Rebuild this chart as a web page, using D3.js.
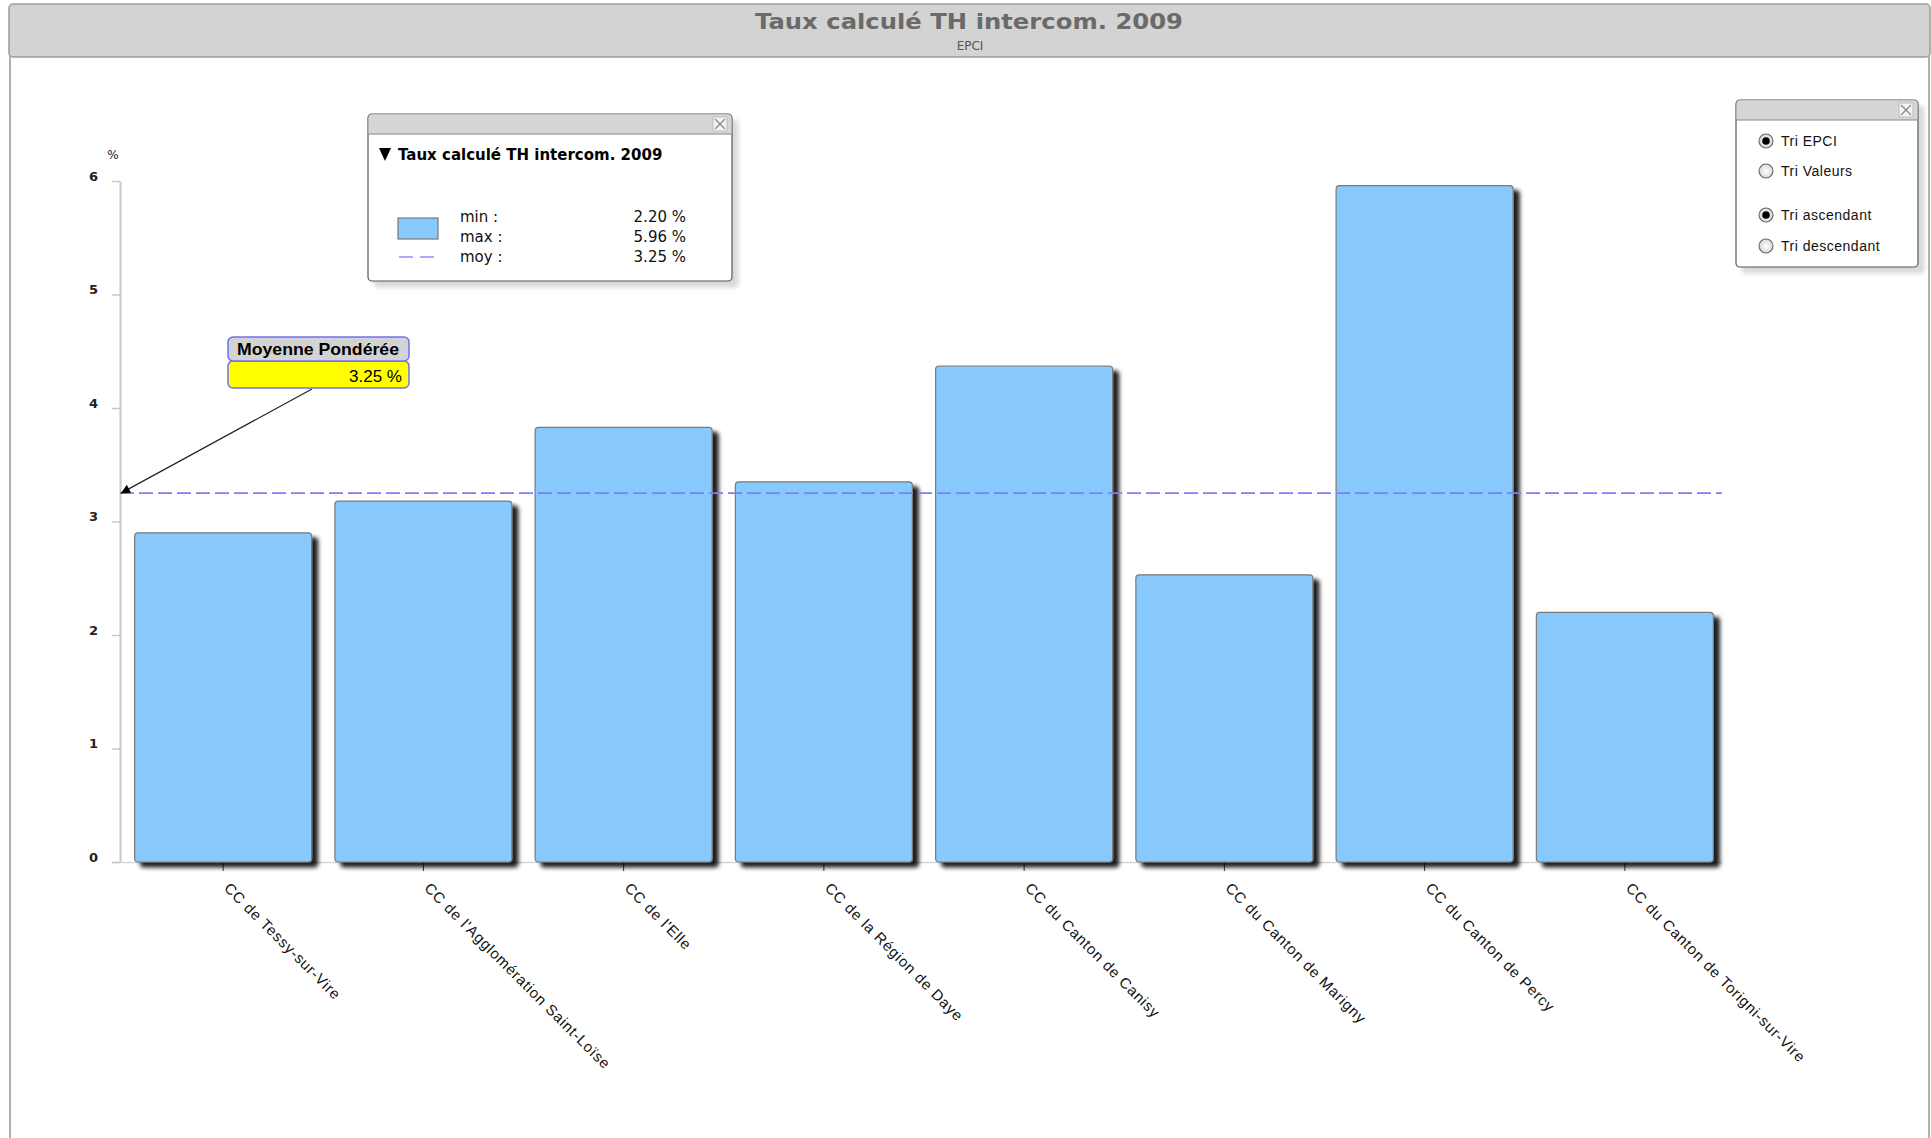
<!DOCTYPE html>
<html>
<head>
<meta charset="utf-8">
<script src="https://cdn.jsdelivr.net/npm/d3@7"></script>
<style>
  html, body { margin: 0; padding: 0; background: #fff; }
  svg { display: block; }
</style>
</head>
<body>
<svg id="chart" width="1931" height="1138"></svg>
<script>
// ---- data ----
const categories = [
  "CC de Tessy-sur-Vire",
  "CC de l'Agglomération Saint-Loïse",
  "CC de l'Elle",
  "CC de la Région de Daye",
  "CC du Canton de Canisy",
  "CC du Canton de Marigny",
  "CC du Canton de Percy",
  "CC du Canton de Torigni-sur-Vire"
];
const values = [2.90, 3.18, 3.83, 3.35, 4.37, 2.53, 5.96, 2.20];
const yTicks = [0, 1, 2, 3, 4, 5, 6];
const meanValue = 3.25;
const meanLabel = "Moyenne Pondérée";
const meanText = "3.25 %";
const titleText = "Taux calculé TH intercom. 2009";
const subtitleText = "EPCI";
const unitText = "%";
const legendLabels = ["min :", "max :", "moy :"];
const legendValues = ["2.20 %", "5.96 %", "3.25 %"];
const sortOptions = ["Tri EPCI", "Tri Valeurs"];
const orderOptions = ["Tri ascendant", "Tri descendant"];

// ---- setup ----
const svg = d3.select("#chart");
const defs = svg.append("defs");

const shadow = defs.append("filter").attr("id", "barShadow")
  .attr("x", "-10%").attr("y", "-10%").attr("width", "130%").attr("height", "130%");
shadow.append("feDropShadow").attr("dx", 6).attr("dy", 5).attr("stdDeviation", 2.2)
  .attr("flood-color", "#000").attr("flood-opacity", 0.88);

const boxShadow = defs.append("filter").attr("id", "boxShadow")
  .attr("x", "-10%").attr("y", "-10%").attr("width", "130%").attr("height", "130%");
boxShadow.append("feDropShadow").attr("dx", 6).attr("dy", 6).attr("stdDeviation", 2)
  .attr("flood-color", "#000").attr("flood-opacity", 0.15);

defs.append("marker").attr("id", "arrow")
  .attr("viewBox", "0 0 10 10").attr("refX", 10).attr("refY", 5)
  .attr("markerWidth", 12).attr("markerHeight", 9).attr("markerUnits", "userSpaceOnUse")
  .attr("orient", "auto")
  .append("path").attr("d", "M0,0 L10,5 L0,10 z").attr("fill", "#000");

const radioGrad = defs.append("radialGradient").attr("id", "radioGrad");
radioGrad.append("stop").attr("offset", "0%").attr("stop-color", "#fff");
radioGrad.append("stop").attr("offset", "100%").attr("stop-color", "#d8d8d8");

// ---- frame ----
svg.append("line").attr("x1", 10).attr("x2", 10).attr("y1", 50).attr("y2", 1138)
  .attr("stroke", "#b0b0b0").attr("stroke-width", 2);
svg.append("line").attr("x1", 1929).attr("x2", 1929).attr("y1", 50).attr("y2", 1138)
  .attr("stroke", "#b0b0b0").attr("stroke-width", 2);
svg.append("rect").attr("x", 9).attr("y", 4).attr("width", 1921).attr("height", 53)
  .attr("rx", 4).attr("fill", "#d3d3d3").attr("stroke", "#9c9c9c").attr("stroke-width", 1.5);
svg.append("text").attr("x", 969).attr("y", 29).attr("text-anchor", "middle")
  .attr("font-family", "DejaVu Sans").attr("font-weight", "bold").attr("font-size", 22)
  .attr("textLength", 428).attr("lengthAdjust", "spacingAndGlyphs")
  .attr("fill", "#6a6a6a").text(titleText);
svg.append("text").attr("x", 970).attr("y", 50).attr("text-anchor", "middle")
  .attr("font-family", "DejaVu Sans").attr("font-size", 12)
  .attr("fill", "#555").text(subtitleText);

// ---- scales ----
const x = d3.scaleBand().domain(categories).range([123, 1725])
  .paddingInner(0.116).paddingOuter(0.058);
const y = d3.scaleLinear().domain([0, 6]).range([862, 181]);

// ---- axes ----
const xAxis = svg.append("g").attr("transform", "translate(0,862)")
  .call(d3.axisBottom(x).tickSize(9).tickSizeOuter(0).tickFormat(""));
xAxis.select(".domain").attr("stroke", "#d6d6d6").attr("stroke-width", 1.5)
  .attr("d", "M112,0.5H1722");
xAxis.selectAll(".tick line").attr("stroke", "#333");

const yAxis = svg.append("g").attr("transform", "translate(120,0)")
  .call(d3.axisLeft(y).tickValues(yTicks).tickSize(8).tickSizeOuter(0).tickPadding(14)
    .tickFormat(d3.format("d")));
yAxis.select(".domain").attr("stroke", "#c8c8c8").attr("stroke-width", 2);
yAxis.selectAll(".tick line").attr("stroke", "#c8c8c8").attr("stroke-width", 1.5);
yAxis.selectAll(".tick text").attr("font-family", "DejaVu Sans").attr("font-weight", "bold")
  .attr("font-size", 13).attr("fill", "#222").attr("dy", "-0.05em");
svg.append("text").attr("x", 113).attr("y", 159).attr("text-anchor", "middle")
  .attr("font-family", "DejaVu Sans").attr("font-size", 12).attr("fill", "#222").text(unitText);

// ---- bars ----
svg.append("g").selectAll("rect").data(values).join("rect")
  .attr("x", (d, i) => x(categories[i]))
  .attr("y", d => y(d))
  .attr("width", x.bandwidth())
  .attr("height", d => y(0) - y(d))
  .attr("rx", 3.5)
  .attr("fill", "#87c8fd")
  .attr("stroke", "#7a7a7a").attr("stroke-width", 1.2)
  .attr("filter", "url(#barShadow)");

// ---- x labels ----
svg.append("g").selectAll("text").data(categories).join("text")
  .attr("transform", d => `translate(${x(d) + x.bandwidth() / 2},${889}) rotate(45)`)
  .attr("font-family", "Liberation Sans, Arial").attr("font-size", 15)
  .attr("letter-spacing", 0.8).attr("fill", "#111").text(d => d);

// ---- mean line ----
svg.append("line").attr("x1", 120).attr("x2", 1722)
  .attr("y1", y(meanValue)).attr("y2", y(meanValue))
  .attr("stroke", "#7d7dff").attr("stroke-width", 1.6).attr("stroke-dasharray", "14,5");

// ---- mean annotation ----
svg.append("line").attr("x1", 312).attr("y1", 389).attr("x2", 121).attr("y2", y(meanValue))
  .attr("stroke", "#222").attr("stroke-width", 1.2).attr("marker-end", "url(#arrow)");
svg.append("rect").attr("x", 228).attr("y", 361).attr("width", 181).attr("height", 27)
  .attr("rx", 5).attr("fill", "#ffff00").attr("stroke", "#7070f0").attr("stroke-width", 1.5);
svg.append("rect").attr("x", 228).attr("y", 337).attr("width", 181).attr("height", 24)
  .attr("rx", 5).attr("fill", "#d3d3d3").attr("stroke", "#7070f0").attr("stroke-width", 1.5);
svg.append("text").attr("x", 318).attr("y", 355).attr("text-anchor", "middle")
  .attr("font-family", "Liberation Sans, Arial").attr("font-weight", "bold").attr("font-size", 17)
  .attr("textLength", 162).attr("lengthAdjust", "spacingAndGlyphs")
  .attr("fill", "#000").text(meanLabel);
svg.append("text").attr("x", 402).attr("y", 382).attr("text-anchor", "end")
  .attr("font-family", "Liberation Sans, Arial").attr("font-size", 17)
  .attr("fill", "#000").text(meanText);

// ---- helper: window box ----
function windowBox(x0, y0, w, h) {
  const g = svg.append("g");
  g.append("rect").attr("x", x0).attr("y", y0).attr("width", w).attr("height", h)
    .attr("rx", 4).attr("fill", "#fff").attr("stroke", "#555").attr("stroke-width", 1.2)
    .attr("filter", "url(#boxShadow)");
  g.append("path")
    .attr("d", `M${x0 + 0.6},${y0 + 20} V${y0 + 4} Q${x0 + 0.6},${y0 + 0.6} ${x0 + 4},${y0 + 0.6} H${x0 + w - 4} Q${x0 + w - 0.6},${y0 + 0.6} ${x0 + w - 0.6},${y0 + 4} V${y0 + 20} Z`)
    .attr("fill", "#d6d6d6").attr("stroke", "none");
  g.append("line").attr("x1", x0).attr("x2", x0 + w).attr("y1", y0 + 20).attr("y2", y0 + 20)
    .attr("stroke", "#888").attr("stroke-width", 1);
  const cx = x0 + w - 12, cy = y0 + 10;
  g.append("rect").attr("x", cx - 7).attr("y", cy - 7).attr("width", 14).attr("height", 14)
    .attr("fill", "#f4f4f4").attr("stroke", "#bbb");
  g.append("path").attr("d", `M${cx - 5},${cy - 5} L${cx + 5},${cy + 5} M${cx + 5},${cy - 5} L${cx - 5},${cy + 5}`)
    .attr("stroke", "#888").attr("stroke-width", 1.3);
  return g;
}

// ---- legend box ----
const lg = windowBox(368, 114, 364, 167);
lg.append("path").attr("d", "M379,148 L391,148 L385,161 Z").attr("fill", "#000");
lg.append("text").attr("x", 398).attr("y", 160)
  .attr("font-family", "DejaVu Sans").attr("font-weight", "bold").attr("font-size", 15)
  .attr("fill", "#000").text(titleText);
lg.append("rect").attr("x", 398).attr("y", 218).attr("width", 40).attr("height", 21)
  .attr("fill", "#87c8fd").attr("stroke", "#777").attr("stroke-width", 1.2);
lg.append("line").attr("x1", 399).attr("x2", 434).attr("y1", 257).attr("y2", 257)
  .attr("stroke", "#aaaaff").attr("stroke-width", 2).attr("stroke-dasharray", "14,7");
lg.selectAll("text.lab").data(legendLabels).join("text").attr("class", "lab")
  .attr("x", 460).attr("y", (d, i) => 222 + i * 20)
  .attr("font-family", "DejaVu Sans").attr("font-size", 15).attr("fill", "#111").text(d => d);
lg.selectAll("text.val").data(legendValues).join("text").attr("class", "val")
  .attr("x", 686).attr("y", (d, i) => 222 + i * 20).attr("text-anchor", "end")
  .attr("font-family", "DejaVu Sans").attr("font-size", 15).attr("fill", "#111").text(d => d);

// ---- sort box ----
const sb = windowBox(1736, 100, 182, 167);
const radios = [
  { label: sortOptions[0], y: 141, on: true },
  { label: sortOptions[1], y: 171, on: false },
  { label: orderOptions[0], y: 215, on: true },
  { label: orderOptions[1], y: 246, on: false }
];
radios.forEach(r => {
  sb.append("circle").attr("cx", 1766).attr("cy", r.y).attr("r", 7)
    .attr("fill", "url(#radioGrad)").attr("stroke", "#666").attr("stroke-width", 1.1);
  if (r.on) sb.append("circle").attr("cx", 1766).attr("cy", r.y).attr("r", 3.8).attr("fill", "#000");
  sb.append("text").attr("x", 1781).attr("y", r.y + 5)
    .attr("font-family", "Liberation Sans, Arial").attr("font-size", 14)
    .attr("letter-spacing", 0.5).attr("fill", "#111").text(r.label);
});
</script>
</body>
</html>
